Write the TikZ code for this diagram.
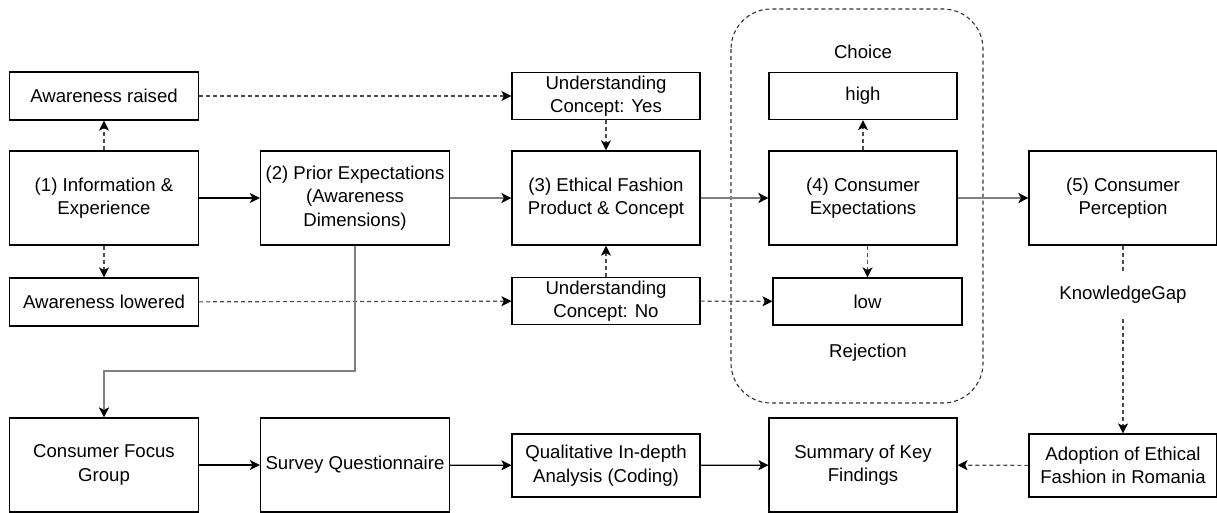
\documentclass[tikz,border=0pt]{standalone}
\usepackage{fontspec}
\setmainfont{Liberation Sans}
\usetikzlibrary{arrows.meta}
\begin{document}
\begin{tikzpicture}[x=1pt,y=-1pt,
  every node/.style={font=\fontsize{18.6}{23.5}\selectfont, align=center, inner sep=0pt},
  box/.style={draw=black, line width=1.2pt, fill=white},
  tip/.style={-{Stealth[length=10pt,width=10pt,inset=2.5pt,color=black]}},
  flow/.style={tip, line width=1.2pt, draw=black},
  mainflow/.style={tip, line width=2pt, draw=black!50},
  dashline/.style={line width=1.1pt, draw=black!70, dash pattern=on 4pt off 3pt},
  dasharrow/.style={tip, dashline},
  plainlabel/.style={font=\fontsize{18.6}{23.5}\selectfont}]
\useasboundingbox (0,0) rectangle (1217,512);

% grouping frame around the expectation outcomes
\draw[line width=1.1pt, draw=black!80, dash pattern=on 4pt off 3pt, rounded corners=40pt]
  (731,9) rectangle (983,403);
\node[plainlabel] (choice) at (863,52) {Choice};
\node[plainlabel] (rejection) at (868,353) {Rejection};

% column 1
\node[box, minimum width=189pt, minimum height=48pt] (raised) at (104,96) {Awareness raised};
\node[box, minimum width=189pt, minimum height=94pt] (info) at (104,198) {(1) Information \&\\Experience};
\node[box, minimum width=189pt, minimum height=48pt] (lowered) at (104,302) {Awareness lowered};

% column 2
\node[box, minimum width=189pt, minimum height=94pt] (prior) at (355,198) {(2) Prior Expectations\\(Awareness\\Dimensions)};

% column 3
\node[box, minimum width=188pt, minimum height=47pt] (yes) at (606,96) {Understanding\\Concept: Yes};
\node[box, minimum width=188pt, minimum height=94pt] (ethical) at (606,198) {(3) Ethical Fashion\\Product \& Concept};
\node[box, minimum width=188pt, minimum height=47pt] (no) at (606,301) {Understanding\\Concept: No};

% column 4
\node[box, minimum width=188pt, minimum height=47pt] (high) at (863,96) {high};
\node[box, minimum width=188pt, minimum height=94pt] (consexp) at (863,198) {(4) Consumer\\Expectations};
\node[box, minimum width=189pt, minimum height=47pt] (low) at (867.5,301.5) {low};

% column 5
\node[box, minimum width=188pt, minimum height=94pt] (perc) at (1123,198) {(5) Consumer\\Perception};
\node[plainlabel, minimum height=48pt] (gap) at (1123,295) {KnowledgeGap};

% bottom row
\node[box, minimum width=189pt, minimum height=94pt] (focus) at (104,465) {Consumer Focus\\Group};
\node[box, minimum width=189pt, minimum height=94pt] (survey) at (355,465) {Survey Questionnaire};
\node[box, minimum width=188pt, minimum height=63pt] (qual) at (606,465.5) {Qualitative In-depth\\Analysis (Coding)};
\node[box, minimum width=188pt, minimum height=94pt] (summary) at (863,465) {Summary of Key\\Findings};
\node[box, minimum width=188pt, minimum height=63pt] (adopt) at (1123,465.5) {Adoption of Ethical\\Fashion in Romania};

% main chain
\draw[flow] (info) -- (prior);
\draw[mainflow] (prior) -- (ethical);
\draw[mainflow] (ethical) -- (consexp);
\draw[mainflow] (consexp) -- (perc);

% awareness branches
\draw[dasharrow] (info) -- (raised);
\draw[dasharrow] (info) -- (lowered);
\draw[dasharrow] (raised) -- (yes);
\draw[dasharrow] (lowered) -- (no);
\draw[dasharrow] (yes) -- (ethical);
\draw[dasharrow] (no) -- (ethical);
\draw[dasharrow] (no) -- (low);
\draw[dasharrow] (consexp) -- (high);
\draw[dasharrow] (consexp.south -| low) -- (low);

% research path
\draw[mainflow] (prior.south) |- (104,371) -- (focus.north);
\draw[flow] (focus) -- (survey);
\draw[flow] (survey) -- (qual);
\draw[flow] (qual) -- (summary);

% knowledge gap branch
\draw[dashline] (perc.south) -- (gap.north);
\draw[dasharrow] (gap.south) -- (adopt.north);
\draw[dasharrow] (adopt) -- (summary);
\end{tikzpicture}
\end{document}
